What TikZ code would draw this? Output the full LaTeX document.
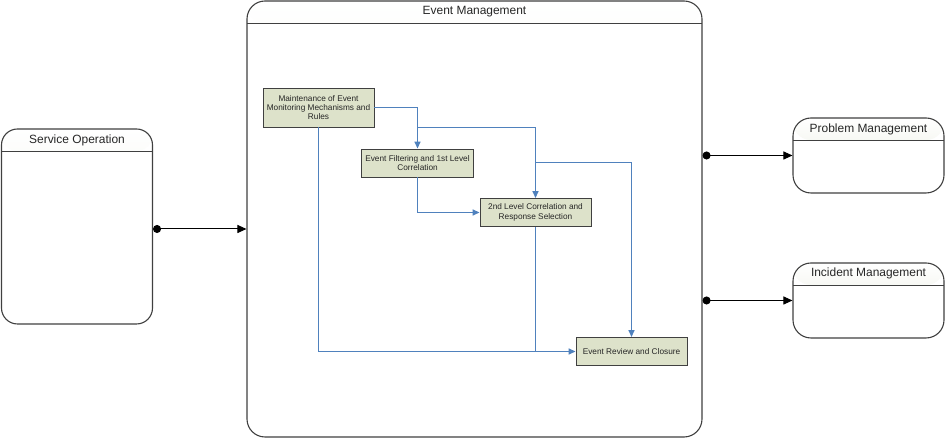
\documentclass[tikz,border=0pt]{standalone}
\usepackage{fontspec}
\setmainfont{Liberation Sans}
\usetikzlibrary{arrows.meta,calc}
\definecolor{flowblue}{HTML}{4F81BD}
\definecolor{boxfill}{HTML}{DDE2CA}
\definecolor{edgegray}{HTML}{404040}
\definecolor{hdr}{HTML}{E4E8D8}
\begin{document}
\begin{tikzpicture}[x=1bp,y=1bp,
  container/.style={draw=edgegray, line width=1.1bp, rounded corners=#1, fill=white, inner sep=0pt,
    path picture={
      \shade[top color=white,bottom color=hdr]
        (path picture bounding box.north west) rectangle ([yshift=-22bp]path picture bounding box.north east);
      \draw[edgegray, line width=0.8bp]
        ([yshift=-22bp]path picture bounding box.north west) -- ([yshift=-22bp]path picture bounding box.north east);
    }},
  container/.default=18bp,
  title/.style={font=\fontsize{12}{14}\selectfont, inner sep=0pt, text=black!85},
  stepbox/.style={draw=edgegray, fill=boxfill, line width=0.9bp, minimum width=111bp, minimum height=28bp,
    inner sep=1pt, align=center, font=\fontsize{8.3}{9.4}\selectfont, text=black!85},
  flow/.style={draw=flowblue, line width=1.5bp, -{Triangle[length=7bp,width=6bp]}},
  flowline/.style={draw=flowblue, line width=1.5bp},
  link/.style={draw=black, line width=1bp, {Circle[length=8bp]}-{Triangle[length=9bp,width=8bp]}}
]
\useasboundingbox (0,0) rectangle (945,445);

% containers
\node[container=18bp, minimum width=455bp, minimum height=436bp] (em) at (474.5,226) {};
\node[title] (emt) at ([yshift=-11bp]em.north) {Event Management};

\node[container=16bp, minimum width=151bp, minimum height=195bp] (so) at (77,218.5) {};
\node[title] (sot) at ([yshift=-11.5bp]so.north) {Service Operation};

\node[container=18bp, minimum width=151bp, minimum height=75bp] (pm) at (868.5,289.5) {};
\node[title] (pmt) at ([yshift=-11.5bp]pm.north) {Problem Management};

\node[container=18bp, minimum width=151bp, minimum height=75bp] (im) at (868.5,144.5) {};
\node[title] (imt) at ([yshift=-11bp]im.north) {Incident Management};

% inner steps
\node[stepbox, minimum height=39bp] (b1) at (318.5,337.5) {Maintenance of Event\\Monitoring Mechanisms and\\Rules};
\node[stepbox, minimum width=112bp] (b2) at (417.5,282) {Event Filtering and 1st Level\\Correlation};
\node[stepbox] (b3) at (535.5,232.5) {2nd Level Correlation and\\Response Selection};
\node[stepbox] (b4) at (631.5,93.5) {Event Review and Closure};

\coordinate (j1) at (417.5,317.5);
\coordinate (j2) at (535.5,282.5);

% blue flows
\draw[flow] (b1.east) -| (b2.north);
\draw[flow] (j1) -| (b3.north);
\draw[flow] (j2) -| (b4.north);
\draw[flow] (b2.south) |- (b3.west);
\draw[flow] (b1.south) |- (b4.west);
\draw[flowline] (b3.south) -- (b3.south |- b4.west);

% black links
\draw[link] ([yshift=-2.5bp]so.east) -- ([yshift=-2.5bp]so.east -| em.west);
\draw[link] (em.east |- pm.west) -- (pm.west);
\draw[link] (em.east |- im.west) -- (im.west);
\end{tikzpicture}
\end{document}
